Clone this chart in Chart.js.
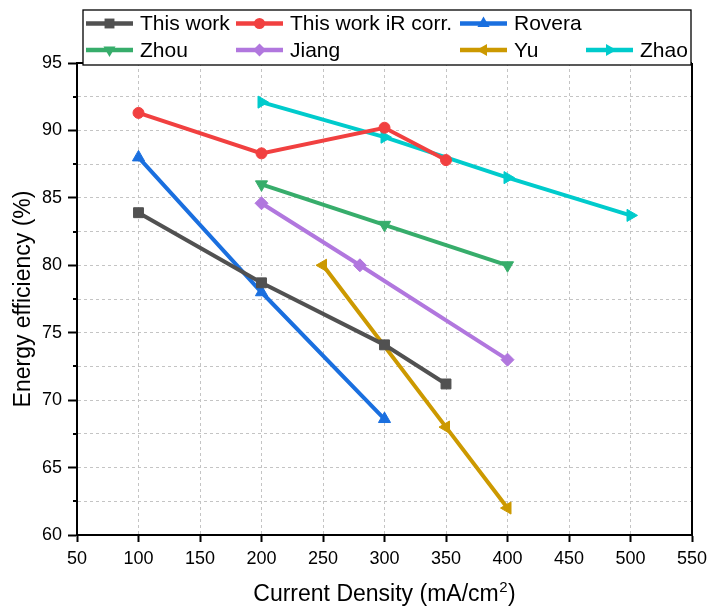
<!DOCTYPE html>
<html>
<head>
<meta charset="utf-8">
<script src="https://cdn.jsdelivr.net/npm/chart.js@4/dist/chart.umd.min.js"></script>
<style>
  html, body { margin: 0; padding: 0; background: #ffffff; }
  #wrap { width: 708px; height: 609px; }
</style>
</head>
<body>
<div id="wrap"><canvas id="chart" width="708" height="609"></canvas></div>
<script>
// Energy efficiency vs. current density, this work compared with literature
const thisWorkX = [100, 200, 300, 350];
const thisWorkY = [83.9, 78.7, 74.1, 71.2];
const thisWorkIRX = [100, 200, 300, 350];
const thisWorkIRY = [91.3, 88.3, 90.2, 87.8];
const roveraX = [100, 200, 300];
const roveraY = [88.0, 78.0, 68.6];
const zhouX = [200, 300, 400];
const zhouY = [86.0, 83.0, 80.0];
const jiangX = [200, 280, 400];
const jiangY = [84.6, 80.0, 73.0];
const yuX = [250, 350, 400];
const yuY = [80.0, 68.0, 62.0];
const zhaoX = [200, 300, 400, 500];
const zhaoY = [92.1, 89.5, 86.5, 83.7];

const seriesLabels = ['This work', 'This work iR corr.', 'Rovera', 'Zhou', 'Jiang', 'Yu', 'Zhao'];
const xTickValues = [50, 100, 150, 200, 250, 300, 350, 400, 450, 500, 550];
const yTickValues = [60, 65, 70, 75, 80, 85, 90, 95];
const xTitleMain = 'Current Density (mA/cm';
const xTitleSup = '2';
const xTitleEnd = ')';

const FONT = "'Liberation Sans', Arial, Helvetica, sans-serif";
Chart.defaults.font.family = FONT;
Chart.defaults.color = '#000000';

function pts(xs, ys) { return xs.map((x, i) => ({ x: x, y: ys[i] })); }

function series(label, xs, ys, color, style, rotation, radius) {
  return {
    label: label,
    data: pts(xs, ys),
    borderColor: color,
    backgroundColor: color,
    borderWidth: 4,
    pointStyle: style,
    rotation: rotation,
    pointRadius: radius,
    pointHoverRadius: radius,
    pointBorderWidth: 1,
    pointBorderColor: color,
    pointBackgroundColor: color,
    tension: 0,
    fill: false,
    clip: false
  };
}

const datasets = [
  series(seriesLabels[0], thisWorkX, thisWorkY, '#515151', 'rect', 0, 7),
  series(seriesLabels[1], thisWorkIRX, thisWorkIRY, '#F14040', 'circle', 0, 5.5),
  series(seriesLabels[2], roveraX, roveraY, '#1A6FDF', 'triangle', 0, 7),
  series(seriesLabels[3], zhouX, zhouY, '#37AD6B', 'triangle', 180, 7),
  series(seriesLabels[4], jiangX, jiangY, '#B177DE', 'rectRot', 0, 6.5),
  series(seriesLabels[5], yuX, yuY, '#CC9900', 'triangle', 270, 7),
  series(seriesLabels[6], zhaoX, zhaoY, '#00CBCC', 'triangle', 90, 7)
];

// Marker shapes for the legend box
function drawMarker(ctx, style, rotation, r, x, y, color) {
  ctx.save();
  ctx.translate(x, y);
  ctx.rotate(rotation * Math.PI / 180);
  ctx.fillStyle = color;
  ctx.beginPath();
  if (style === 'circle') {
    ctx.arc(0, 0, r, 0, Math.PI * 2);
  } else if (style === 'rect') {
    const s = Math.SQRT1_2 * r;
    ctx.rect(-s, -s, 2 * s, 2 * s);
  } else if (style === 'rectRot') {
    ctx.moveTo(0, -r); ctx.lineTo(r, 0); ctx.lineTo(0, r); ctx.lineTo(-r, 0); ctx.closePath();
  } else {
    for (let k = 0; k < 3; k++) {
      const a = k * 2 * Math.PI / 3;
      const px = Math.sin(a) * r, py = -Math.cos(a) * r;
      if (k === 0) ctx.moveTo(px, py); else ctx.lineTo(px, py);
    }
    ctx.closePath();
  }
  ctx.fill();
  ctx.restore();
}

// Frame (right + top), minor y ticks, x title with superscript and the two-row legend box
const framePlugin = {
  id: 'frameAndLegend',
  afterDraw(chart) {
    const ctx = chart.ctx;
    const a = chart.chartArea;
    const ys = chart.scales.y;
    ctx.save();
    ctx.strokeStyle = '#000';
    ctx.lineWidth = 2;
    ctx.beginPath();
    ctx.moveTo(a.right, a.top); ctx.lineTo(a.right, a.bottom);
    ctx.moveTo(a.left, a.top); ctx.lineTo(a.right, a.top);
    ctx.stroke();
    // minor ticks on the left axis
    ctx.beginPath();
    for (let v = ys.min + 2.5; v < ys.max; v += 5) {
      const py = Math.round(ys.getPixelForValue(v));
      ctx.moveTo(a.left - 4, py); ctx.lineTo(a.left, py);
    }
    ctx.stroke();

    // x-axis title with a raised exponent
    ctx.fillStyle = '#000';
    ctx.textBaseline = 'alphabetic';
    ctx.textAlign = 'left';
    const mainFont = '23px ' + FONT, supFont = '15px ' + FONT;
    ctx.font = mainFont;
    const w1 = ctx.measureText(xTitleMain).width;
    const w3 = ctx.measureText(xTitleEnd).width;
    ctx.font = supFont;
    const w2 = ctx.measureText(xTitleSup).width;
    const total = w1 + w2 + 1 + w3;
    const cx = (a.left + a.right) / 2;
    const base = 601;
    let tx = cx - total / 2;
    ctx.font = mainFont;
    ctx.fillText(xTitleMain, tx, base);
    tx += w1 + 0.5;
    ctx.font = supFont;
    ctx.fillText(xTitleSup, tx, base - 9);
    tx += w2 + 0.5;
    ctx.font = mainFont;
    ctx.fillText(xTitleEnd, tx, base);

    // legend
    const box = { x: 83, y: 10, w: 608, h: 55 };
    ctx.fillStyle = '#fff';
    ctx.fillRect(box.x, box.y, box.w, box.h);
    ctx.strokeStyle = '#000';
    ctx.lineWidth = 1.3;
    ctx.strokeRect(box.x, box.y, box.w, box.h);
    const cols = [86, 236, 460, 586];
    const rows = [23.5, 50];
    const slots = [[0, 0], [1, 0], [2, 0], [0, 1], [1, 1], [2, 1], [3, 1]];
    ctx.font = '21px ' + FONT;
    ctx.textBaseline = 'middle';
    ctx.textAlign = 'left';
    chart.data.datasets.forEach((ds, i) => {
      const x0 = cols[slots[i][0]];
      const y0 = rows[slots[i][1]];
      ctx.strokeStyle = ds.borderColor;
      ctx.lineWidth = 4.5;
      ctx.beginPath();
      ctx.moveTo(x0, y0); ctx.lineTo(x0 + 47, y0);
      ctx.stroke();
      drawMarker(ctx, ds.pointStyle, ds.rotation, ds.pointRadius, x0 + 23.5, y0, ds.borderColor);
      ctx.fillStyle = '#000';
      ctx.fillText(ds.label, x0 + 54, y0 + 1);
    });
    ctx.restore();
  }
};

new Chart(document.getElementById('chart'), {
  type: 'line',
  data: { datasets: datasets },
  options: {
    responsive: false,
    animation: false,
    devicePixelRatio: 1,
    layout: { padding: { top: 63, right: 16, left: 0, bottom: 0 } },
    plugins: { legend: { display: false }, tooltip: { enabled: false } },
    scales: {
      x: {
        type: 'linear',
        min: xTickValues[0],
        max: xTickValues[xTickValues.length - 1],
        afterFit: s => { s.height = 74; s.paddingLeft = 0; s.paddingRight = 0; },
        afterBuildTicks: s => { s.ticks = xTickValues.map(v => ({ value: v })); },
        ticks: { font: { size: 18 }, color: '#000', padding: 6, maxRotation: 0 },
        grid: { color: '#c4c4c4', lineWidth: 1, tickLength: 7, tickColor: '#000', tickWidth: 2 },
        border: { display: true, color: '#000', width: 2, dash: [3, 3] },
        title: { display: false }
      },
      y: {
        type: 'linear',
        min: yTickValues[0],
        max: yTickValues[yTickValues.length - 1],
        afterFit: s => { s.width = 77; s.paddingTop = 0; s.paddingBottom = 0; },
        ticks: {
          stepSize: 2.5,
          font: { size: 18 },
          color: '#000',
          padding: 6,
          callback: v => (yTickValues.includes(v) ? String(v) : '')
        },
        grid: {
          color: '#c4c4c4',
          lineWidth: 1,
          tickLength: 9,
          tickWidth: 2,
          tickColor: c => (c.tick && yTickValues.includes(c.tick.value) ? '#000' : 'rgba(0,0,0,0)')
        },
        border: { display: true, color: '#000', width: 2, dash: [3, 3] },
        title: { display: true, text: 'Energy efficiency (%)', font: { size: 23 }, color: '#000', padding: { top: 10, bottom: 0 } }
      }
    }
  },
  plugins: [framePlugin]
});
</script>
</body>
</html>
